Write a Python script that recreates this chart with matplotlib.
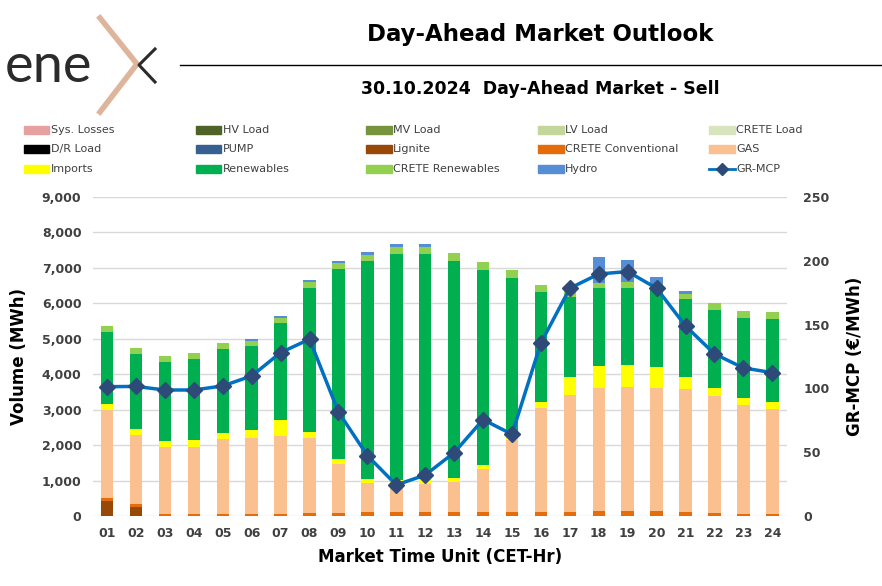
import numpy as np
import matplotlib

matplotlib.use("Agg")
import matplotlib.pyplot as plt
from matplotlib.patches import Rectangle
from matplotlib.lines import Line2D

hours = ["%02d" % h for h in range(1, 25)]

# stacked volumes (MWh), bottom to top
sys_losses = [0] * 24
hv_load = [0] * 24
mv_load = [0] * 24
lv_load = [0] * 24
crete_load = [0] * 24
dr_load = [0] * 24
pump = [0] * 24
lignite = [430, 265, 0, 0, 0, 0, 0, 0, 0, 0, 0, 0,
           0, 0, 0, 0, 0, 0, 0, 0, 0, 0, 0, 0]
crete_conv = [85, 75, 65, 65, 65, 65, 65, 85, 95, 105, 105, 105,
              105, 105, 100, 100, 122, 141, 150, 141, 113, 75, 65, 65]
gas = [2475, 1945, 1873, 1891, 2108, 2145, 2201, 2125, 1363, 817, 798, 798,
       845, 1221, 2035, 2956, 3292, 3481, 3500, 3471, 3462, 3320, 3076, 2954]
imports = [170, 160, 187, 179, 177, 208, 434, 170, 150, 113, 107, 132,
           113, 113, 131, 161, 517, 621, 620, 592, 356, 217, 198, 198]
renewables = [2030, 2135, 2220, 2285, 2353, 2379, 2737, 4053, 5352, 6151, 6383, 6358,
              6142, 5511, 4458, 3095, 2257, 2182, 2173, 2173, 2182, 2201, 2258, 2352]
crete_ren = [170, 170, 170, 180, 177, 141, 150, 161, 188, 178, 207, 197,
             225, 217, 217, 197, 161, 159, 169, 160, 161, 197, 197, 197]
hydro = [0, 0, 0, 0, 0, 65, 56, 56, 57, 85, 84, 85,
         0, 0, 0, 0, 0, 733, 603, 207, 75, 0, 0, 0]

gr_mcp = [101.3, 101.5, 98.7, 98.7, 101.9, 109.7, 128.0, 138.5, 81.5, 47.3, 24.3, 32.1,
          49.6, 75.5, 64.0, 135.6, 178.4, 189.6, 191.5, 178.4, 148.9, 127.0, 116.0, 112.3]

series = [
    ("Sys. Losses", sys_losses, "#e6a0a0"),
    ("HV Load", hv_load, "#4f6228"),
    ("MV Load", mv_load, "#77933c"),
    ("LV Load", lv_load, "#c3d69b"),
    ("CRETE Load", crete_load, "#d7e4bd"),
    ("D/R Load", dr_load, "#000000"),
    ("PUMP", pump, "#376092"),
    ("Lignite", lignite, "#984807"),
    ("CRETE Conventional", crete_conv, "#e46c0a"),
    ("GAS", gas, "#fac090"),
    ("Imports", imports, "#ffff00"),
    ("Renewables", renewables, "#00b050"),
    ("CRETE Renewables", crete_ren, "#92d050"),
    ("Hydro", hydro, "#558ed5"),
]
line_color = "#0070c0"
marker_color = "#2e4a78"
txt = "#404040"

fig = plt.figure(figsize=(8.82, 5.86), dpi=100)
ax = fig.add_axes([0.105, 0.1195, 0.787, 0.5445])

x = np.arange(24)
bottom = np.zeros(24)
for name, vals, col in series:
    vals = np.array(vals, dtype=float)
    ax.bar(x, vals, 0.43, bottom=bottom, color=col, linewidth=0)
    bottom += vals

ax.set_xlim(-0.5, 23.5)
ax.set_ylim(0, 9000)
ax.set_yticks(range(0, 9001, 1000))
ax.set_yticklabels([f"{v:,}" for v in range(0, 9001, 1000)])
ax.set_xticks(x)
ax.set_xticklabels(hours)
ax.grid(axis="y", color="#d9d9d9", linewidth=1)
ax.set_axisbelow(True)
for s in ax.spines.values():
    s.set_visible(False)
ax.tick_params(length=0, labelsize=9, labelcolor=txt, pad=8)
for lab in ax.get_xticklabels() + ax.get_yticklabels():
    lab.set_fontweight("bold")
ax.set_ylabel("Volume (MWh)", fontsize=12, fontweight="bold", color="black", labelpad=10)
ax.set_xlabel("Market Time Unit (CET-Hr)", fontsize=12, fontweight="bold", color="black", labelpad=6)

ax2 = ax.twinx()
ax2.plot(x, gr_mcp, color=line_color, linewidth=2.5, marker="D", markersize=8,
         markerfacecolor=marker_color, markeredgecolor=marker_color)
ax2.set_ylim(0, 250)
ax2.set_yticks(range(0, 251, 50))
for s in ax2.spines.values():
    s.set_visible(False)
ax2.tick_params(length=0, labelsize=9, labelcolor=txt, pad=12)
for lab in ax2.get_yticklabels():
    lab.set_fontweight("bold")
ax2.set_ylabel("GR-MCP (€/MWh)", fontsize=12, fontweight="bold", color="black", labelpad=12)

# legend drawn by hand in a 5 x 3 grid
entries = [(n, c) for n, _, c in series] + [("GR-MCP", None)]
col_x = [0.027, 0.222, 0.415, 0.610, 0.804]
row_y = [1 - 130 / 586, 1 - 149 / 586, 1 - 169 / 586]
for i, (name, col) in enumerate(entries):
    cx = col_x[i % 5]
    cy = row_y[i // 5]
    if col is None:
        fig.add_artist(Line2D([cx, cx + 0.029], [cy, cy], color=line_color, linewidth=2,
                              transform=fig.transFigure))
        fig.add_artist(Line2D([cx + 0.0145], [cy], color=marker_color, marker="D",
                              markersize=6, transform=fig.transFigure))
    else:
        fig.add_artist(Rectangle((cx, cy - 0.007), 0.029, 0.014, color=col,
                                 transform=fig.transFigure))
    fig.text(cx + 0.031, cy, name, fontsize=8, color=txt, va="center", ha="left")

# header
fig.text(0.613, 1 - 35 / 586, "Day-Ahead Market Outlook", fontsize=16.5, fontweight="bold",
         ha="center", va="center")
fig.add_artist(Line2D([180 / 882, 1.0], [1 - 65 / 586, 1 - 65 / 586], color="black",
                      linewidth=1, transform=fig.transFigure))
fig.text(0.613, 1 - 89 / 586, "30.10.2024  Day-Ahead Market - Sell", fontsize=12.5,
         fontweight="bold", ha="center", va="center")

# logo
fig.text(5 / 882, 1 - 66 / 586, "ene", fontsize=39, color="#2b2b2b", ha="left", va="center",
         family=["Lato", "DejaVu Sans"], fontweight="normal")
peach = "#dfb49c"
fig.add_artist(Line2D([100 / 882, 137 / 882, 100 / 882],
                      [1 - 18 / 586, 1 - 64 / 586, 1 - 112 / 586],
                      color=peach, linewidth=4, solid_joinstyle="miter", transform=fig.transFigure))
fig.add_artist(Line2D([155 / 882, 139 / 882, 155 / 882],
                      [1 - 49 / 586, 1 - 65 / 586, 1 - 82 / 586],
                      color="#2b2b2b", linewidth=2.2, transform=fig.transFigure))

fig.savefig("out.png", dpi=100)
